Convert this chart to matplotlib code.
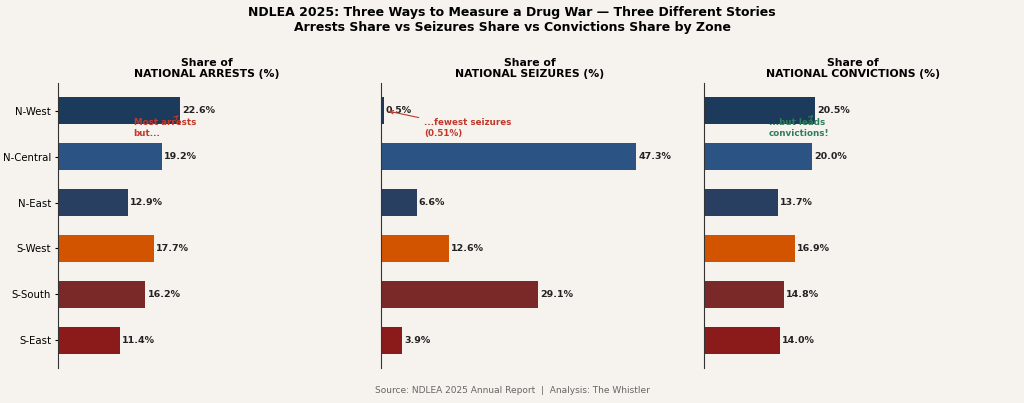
import matplotlib.pyplot as plt

zones = ["N-West", "N-Central", "N-East", "S-West", "S-South", "S-East"]
arrests = [22.6, 19.2, 12.9, 17.7, 16.2, 11.4]
seizures = [0.51, 47.3, 6.6, 12.6, 29.1, 3.9]
convictions = [20.5, 20.0, 13.7, 16.9, 14.8, 14.0]
colors = ["#1b3a5c", "#2b5384", "#283f62", "#d35400", "#7b2828", "#8b1a1a"]
titles = ["Share of\nNATIONAL ARRESTS (%)", "Share of\nNATIONAL SEIZURES (%)",
          "Share of\nNATIONAL CONVICTIONS (%)"]

bg = "#f6f3ee"
fig = plt.figure(figsize=(10.24, 4.03), dpi=100, facecolor=bg)
lefts = [58, 381, 704]
axes = []
for i, (vals, title) in enumerate(zip([arrests, seizures, convictions], titles)):
    ax = fig.add_axes([lefts[i] / 1024, 35 / 403, 297 / 1024, 285 / 403], facecolor=bg)
    y = range(len(zones))
    ax.barh(y, vals, color=colors, height=0.6)
    ax.set_ylim(5.6, -0.6)
    ax.set_xlim(0, 55)
    ax.set_xticks([])
    ax.set_yticks(list(y))
    ax.set_yticklabels(zones if i == 0 else [], fontsize=7.3)
    ax.tick_params(axis="y", length=2 if i == 0 else 0, pad=3)
    for s in ["top", "right", "bottom"]:
        ax.spines[s].set_visible(False)
    ax.spines["left"].set_color("#333333")
    for yy, v in zip(y, vals):
        ax.text(v + 0.4, yy, f"{v:.1f}%", va="center", fontsize=6.8, fontweight="bold", color="#222222")
    ax.set_title(title, fontsize=7.8, fontweight="bold", pad=4)
    axes.append(ax)

axes[0].annotate("Most arrests\nbut...", xy=(22.3, 0.1), xytext=(14, 0.38),
                 fontsize=6.3, fontweight="bold", color="#c0392b", va="center",
                 arrowprops=dict(arrowstyle="->", color="#c0392b", lw=0.8))
axes[1].annotate("...fewest seizures\n(0.51%)", xy=(0.9, 0), xytext=(8, 0.38),
                 fontsize=6.3, fontweight="bold", color="#c0392b", va="center",
                 arrowprops=dict(arrowstyle="->", color="#c0392b", lw=0.8))
axes[2].annotate("...but leads\nconvictions!", xy=(20.2, 0.1), xytext=(12, 0.38),
                 fontsize=6.3, fontweight="bold", color="#2e7d5b", va="center",
                 arrowprops=dict(arrowstyle="->", color="#2e7d5b", lw=0.8))

fig.suptitle("NDLEA 2025: Three Ways to Measure a Drug War \u2014 Three Different Stories\n"
             "Arrests Share vs Seizures Share vs Convictions Share by Zone",
             fontsize=9, fontweight="bold", y=0.985)
fig.text(0.5, 0.025, "Source: NDLEA 2025 Annual Report  |  Analysis: The Whistler",
         ha="center", fontsize=6.5, color="#666666")
fig.savefig("out.png", dpi=100, facecolor=bg)
